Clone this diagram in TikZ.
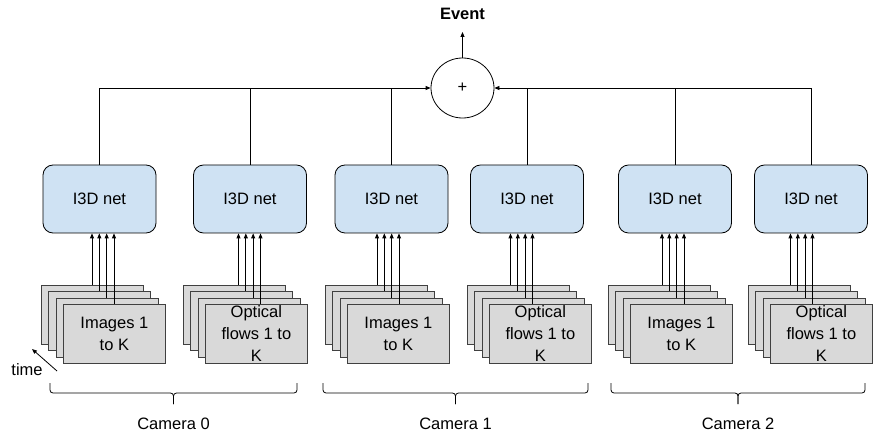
\documentclass[tikz,border=0pt]{standalone}
\usepackage{fontspec}
\setmainfont{Liberation Sans}
\usetikzlibrary{arrows.meta,shapes.geometric}
\definecolor{netfill}{HTML}{CFE2F3}
\definecolor{framefill}{HTML}{D9D9D9}
\definecolor{frameedge}{HTML}{404040}
\newcommand\imgtxt{Images 1\\to K}
\newcommand\flowtxt{Optical\\flows 1 to\\K}
\begin{document}
\begin{tikzpicture}[x=1pt,y=-1pt,
  font=\fontsize{16.5}{22}\selectfont,
  link/.style={line width=0.8pt},
  tip/.style={link,-{Triangle[length=5pt,width=4pt]}},
  net/.style={draw=black,line width=0.8pt,fill=netfill,rounded corners=10pt,
    minimum width=113pt,minimum height=68pt,inner sep=0pt},
  framebox/.style={draw=frameedge,line width=0.8pt,fill=framefill,
    minimum width=102pt,minimum height=59pt,inner sep=0pt,
    anchor=north west,align=center},
  sumnode/.style={ellipse,draw=black,line width=0.8pt,fill=white,
    minimum width=63pt,minimum height=60pt,inner sep=0pt}]
\useasboundingbox (0,0) rectangle (873,438);

% I3D networks
\foreach \k/\x in {1/99.5,2/250,3/391.5,4/527,5/675,6/811}
  \node[net] (net\k) at (\x,199) {I3D net};

% frame stacks feeding each network (back frame first)
\foreach \k/\X/\off/\txt in {1/41/51/\imgtxt, 2/183/55.5/\flowtxt,
    3/325/52/\imgtxt, 4/467/43.5/\flowtxt, 5/608/54/\imgtxt, 6/748/42.5/\flowtxt}{
  \foreach \i in {0,1,2,3}{
    \ifnum\i=3
      \node[framebox] (f\k\i) at ({\X+7.33*\i},{285+6.33*\i}) {\txt};
    \else
      \node[framebox] (f\k\i) at ({\X+7.33*\i},{285+6.33*\i}) {};
    \fi
  }
  \foreach \i in {0,1,2,3}
    \draw[tip] ([xshift=\off pt]f\k\i.north west) -- ([xshift=\off pt]f\k\i.north west |- net\k.south);
}

% fusion of all network outputs
\node[sumnode] (sum) at (462.5,88) {+};
\node[font=\fontsize{16.5}{22}\selectfont\bfseries] (event) at (462.5,14) {Event};
\coordinate (eventtip) at (462.5,32);
\draw[tip] (sum.north) -- (eventtip);

\draw[tip] (net1.north) |- (sum.west);
\draw[link] (net2.north) -- (net2.north |- sum.west);
\draw[link] (net3.north) -- (net3.north |- sum.west);
\draw[tip] (net6.north) |- (sum.east);
\draw[link] (net4.north) -- (net4.north |- sum.east);
\draw[link] (net5.north) -- (net5.north |- sum.east);

% time axis
\node (time) at (27,370) {time};
\coordinate (t0) at (57,371);
\coordinate (t1) at (32,349);
\draw[tip] (t0) -- (t1);

% camera groups
\foreach \a/\b/\n in {50/297/0, 323/588/1, 611/865/2}{
  \pgfmathsetmacro\c{(\a+\b)/2}
  \draw[link,rounded corners=3pt] (\a,383) -- (\a,393) -- (\c,393) -- (\c,404);
  \draw[link,rounded corners=3pt] (\b,383) -- (\b,393) -- (\c,393) -- (\c,404);
  \node (cam\n) at (\c,424) {Camera \n};
}
\end{tikzpicture}
\end{document}
